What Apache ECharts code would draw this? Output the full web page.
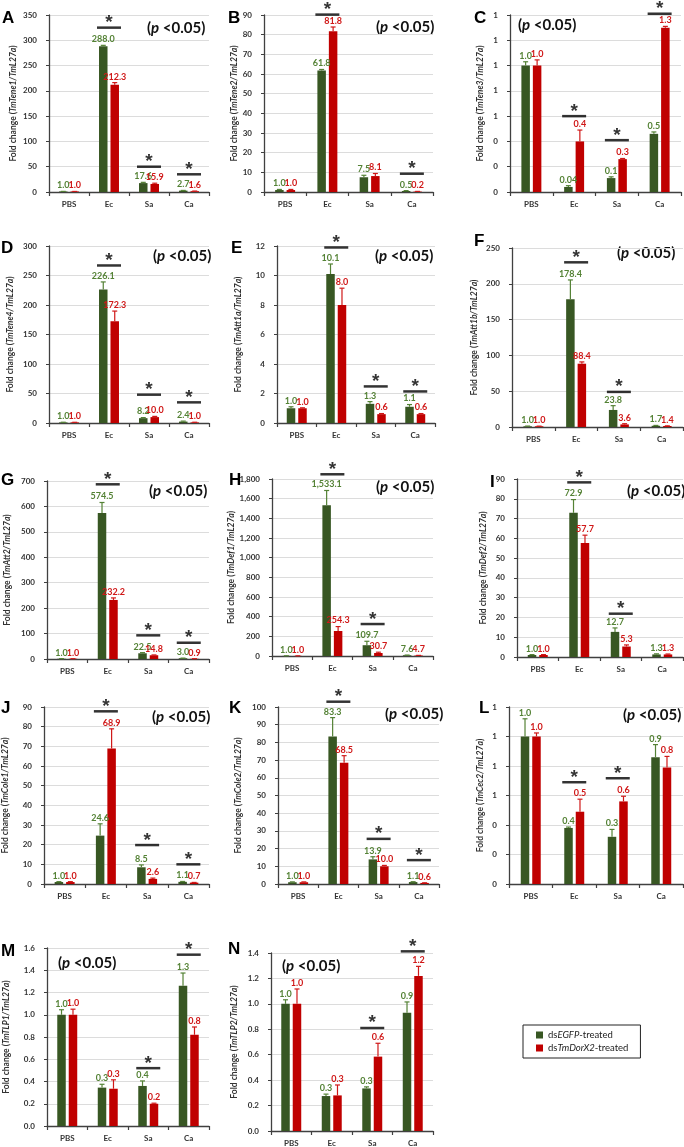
<!DOCTYPE html>
<html><head><meta charset="utf-8">
<script src="https://cdn.jsdelivr.net/npm/echarts@6/dist/echarts.min.js"></script>
<style>html,body{margin:0;padding:0;background:#fff}#c{width:684px;height:1147px}</style>
</head><body><div id="c"></div>
<script>
// ---------- DATA ----------
const categories = ['PBS', 'Ec', 'Sa', 'Ca'];
const panelLetters = ['A','B','C','D','E','F','G','H','I','J','K','L','M','N'];
const genes = ['TmTene1','TmTene2','TmTene3','TmTene4','TmAtt1a','TmAtt1b','TmAtt2','TmDef1','TmDef2','TmCole1','TmCole2','TmCec2','TmTLP1','TmTLP2'];
const seriesNames = ['dsEGFP-treated', 'dsTmDorX2-treated'];
const yMax      = [350, 90, 1.4, 300, 12, 250, 700, 1800, 90, 90, 100, 1.2, 1.6, 1.4];
const yInterval = [50, 10, 0.2, 50, 2, 50, 100, 200, 10, 10, 10, 0.2, 0.2, 0.2];
const yDecimals = [0, 0, 0, 0, 0, 0, 0, 0, 0, 0, 0, 0, 1, 1];

const egfpMean = [
  [1.0, 288.0, 17.6, 2.7],
  [1.0, 61.8, 7.5, 0.5],
  [1.0, 0.04, 0.11, 0.46],
  [1.0, 226.1, 8.2, 2.4],
  [1.0, 10.1, 1.3, 1.1],
  [1.0, 178.4, 23.8, 1.7],
  [1.0, 574.5, 22.5, 3.0],
  [1.0, 1533.1, 109.7, 7.6],
  [1.0, 72.9, 12.7, 1.3],
  [1.0, 24.6, 8.5, 1.1],
  [1.0, 83.3, 13.9, 1.1],
  [1.0, 0.38, 0.32, 0.86],
  [1.0, 0.345, 0.36, 1.26],
  [1.0, 0.275, 0.335, 0.93]
];
const dorxMean = [
  [1.0, 212.3, 15.9, 1.6],
  [1.0, 81.8, 8.1, 0.2],
  [1.0, 0.4, 0.26, 1.3],
  [1.0, 172.3, 10.0, 1.0],
  [1.0, 8.0, 0.6, 0.6],
  [1.0, 88.4, 3.6, 1.4],
  [1.0, 232.2, 14.8, 0.9],
  [1.0, 254.3, 30.7, 4.7],
  [1.0, 57.7, 5.3, 1.3],
  [1.0, 68.9, 2.6, 0.7],
  [1.0, 68.5, 10.0, 0.6],
  [1.0, 0.49, 0.56, 0.79],
  [1.0, 0.335, 0.2, 0.82],
  [1.0, 0.28, 0.585, 1.22]
];
const egfpErr = [
  [0.2, 2, 1.5, 0.4],
  [0.3, 0.5, 1.0, 0.2],
  [0.03, 0.01, 0.01, 0.015],
  [0.3, 13, 1.0, 0.8],
  [0.1, 0.68, 0.15, 0.15],
  [0.3, 27, 6, 0.5],
  [0.3, 41, 2.5, 0.5],
  [1, 150, 40, 2],
  [0.2, 6.7, 2.0, 0.3],
  [0.2, 6, 1.2, 0.2],
  [0.2, 10.7, 1.5, 0.2],
  [0.12, 0.006, 0.05, 0.085],
  [0.045, 0.03, 0.045, 0.115],
  [0.032, 0.015, 0.012, 0.085]
];
const dorxErr = [
  [0.1, 4, 1.5, 0.3],
  [0.3, 2.1, 1.3, 0.1],
  [0.045, 0.09, 0.005, 0.01],
  [0.2, 17.4, 1.2, 0.3],
  [0.03, 1.14, 0.04, 0.04],
  [0.2, 2.5, 1.0, 0.2],
  [0.2, 8, 1.2, 0.2],
  [0.5, 45, 8, 1.5],
  [0.2, 3.9, 0.8, 0.2],
  [0.2, 10, 0.4, 0.1],
  [0.2, 4, 0.5, 0.1],
  [0.024, 0.085, 0.035, 0.075],
  [0.05, 0.08, 0.005, 0.07],
  [0.117, 0.082, 0.105, 0.075]
];
// significance bars: category and level (in axis units)
const sigCats = [
  ['Ec','Sa','Ca'], ['Ec','Ca'], ['Ec','Sa','Ca'], ['Ec','Sa','Ca'], ['Ec','Sa','Ca'],
  ['Ec','Sa'], ['Ec','Sa','Ca'], ['Ec','Sa'], ['Ec','Sa'], ['Ec','Sa','Ca'],
  ['Ec','Sa','Ca'], ['Ec','Sa'], ['Sa','Ca'], ['Sa','Ca']
];
const sigLevels = [
  [325, 50, 35], [90.2, 9.3], [0.6, 0.41, 1.41], [267, 48, 35], [11.9, 2.48, 2.14],
  [230, 49], [687, 93, 64], [1848, 325], [88.3, 21.9], [87.8, 19.8, 10],
  [103, 25.5, 13.5], [0.69, 0.717], [0.52, 1.54], [0.81, 1.413]
];

// ---------- LAYOUT ----------
// plot boxes [left, top, right, bottom]
const boxes = [
  [49, 15, 209, 192], [264, 15, 433, 192], [510, 15, 681, 192],
  [49, 246, 209, 423], [277, 246, 435, 423], [512, 248, 683, 427],
  [47, 481, 209, 659], [272, 479, 433, 656], [517, 479, 683, 657],
  [44, 707, 209, 884], [278, 707, 439, 884], [509, 707, 683, 884],
  [47, 948, 209, 1126], [271, 953, 433, 1131]
];
const nameGaps = [31, 24, 25, 34, 34, 33, 35, 31, 29, 34, 35, 24, 36, 32];
const letterPos = [[2,18],[228,18],[474,18],[1,248],[231,248],[474,241],[1,480],[229,480],[490,482],[1,708],[229,708],[479,708],[1,951],[228,949]];
const pPos = [[147,28],[376,27],[518,25],[153,256],[375,256],[617,253],[149,491],[376,487],[627,491],[152,717],[385,714],[623,715],[58,963],[282,966]];

const GREEN = '#385723', RED = '#c00000';
const GREEN_TXT = '#548235', RED_TXT = '#d01818';
const FONT = 'Lato';
const BAR_W = 8.5, GAP = 0.35;
const OFF = (BAR_W + BAR_W * GAP) / 2;

function fmtNum(v, d) {
  const s = v.toFixed(d);
  const parts = s.split('.');
  const ip = parts[0].replace(/\B(?=(\d{3})+(?!\d))/g, ',');
  return parts.length > 1 ? ip + '.' + parts[1] : ip;
}
function fmtLabel(v) { return fmtNum(v, v < 0.05 ? 2 : 1); }

const option = {
  animation: false,
  backgroundColor: '#fff',
  grid: [], xAxis: [], yAxis: [], series: [],
  legend: {
    left: 523, top: 1025, orient: 'vertical', icon: 'rect',
    itemWidth: 7, itemHeight: 7, itemGap: 3,
    borderColor: '#222', borderWidth: 1, padding: [5, 12, 5, 13],
    data: seriesNames,
    formatter: function (name) {
      return name === seriesNames[0] ? '{n|ds}{i|EGFP}{n|-treated}' : '{n|ds}{i|TmDorX2}{n|-treated}';
    },
    textStyle: {
      fontFamily: FONT, fontSize: 9.5, color: '#222',
      rich: {
        n: { fontFamily: FONT, fontSize: 9.5, color: '#222' },
        i: { fontFamily: FONT, fontSize: 9.5, color: '#222', fontStyle: 'italic' }
      }
    }
  },
  graphic: []
};

const axisColor = '#404040';
for (let p = 0; p < 14; p++) {
  const b = boxes[p];
  option.grid.push({ left: b[0], top: b[1], width: b[2] - b[0], height: b[3] - b[1], containLabel: false });
  option.xAxis.push({
    type: 'category', gridIndex: p, data: categories,
    axisLine: { lineStyle: { color: axisColor, width: 1.3 } },
    axisTick: { show: true, length: 4, lineStyle: { color: axisColor, width: 1.2 } },
    axisLabel: { margin: 8, fontSize: 8, fontWeight: 'bold', color: '#333', fontFamily: FONT },
    splitLine: { show: false }
  });
  const dec = yDecimals[p];
  option.yAxis.push({
    type: 'value', gridIndex: p, min: 0, max: yMax[p], interval: yInterval[p],
    name: '{n|Fold change (}{i|' + genes[p] + '/TmL27a}{n|)}',
    nameLocation: 'middle', nameRotate: 90, nameGap: nameGaps[p],
    nameTextStyle: {
      fontFamily: FONT, fontSize: 8.5, color: '#333',
      rich: {
        n: { fontFamily: FONT, fontSize: 8.5, fontWeight: 'bold', color: '#333' },
        i: { fontFamily: FONT, fontSize: 8.5, fontWeight: 'bold', fontStyle: 'italic', color: '#333' }
      }
    },
    axisLine: { show: true, lineStyle: { color: axisColor, width: 1.3 } },
    axisTick: { show: true, length: 3, lineStyle: { color: axisColor } },
    axisLabel: { margin: 12, fontSize: 8, fontWeight: 'bold', color: '#333', fontFamily: FONT,
      formatter: function (v) { return fmtNum(v, dec); } },
    splitLine: { show: true, lineStyle: { color: '#dcdcdc', width: 1 } }
  });

  const groups = [
    { name: seriesNames[0], mean: egfpMean[p], err: egfpErr[p], color: GREEN, txt: GREEN_TXT, side: -1 },
    { name: seriesNames[1], mean: dorxMean[p], err: dorxErr[p], color: RED, txt: RED_TXT, side: 1 }
  ];
  groups.forEach(function (g) {
    option.series.push({
      type: 'bar', name: g.name, xAxisIndex: p, yAxisIndex: p,
      data: g.mean, barWidth: BAR_W, barGap: (GAP * 100) + '%',
      itemStyle: { color: g.color }, z: 2
    });
  });
  groups.forEach(function (g) {
    option.series.push({
      type: 'custom', name: g.name + ' err', xAxisIndex: p, yAxisIndex: p, z: 3,
      data: g.mean.map(function (m, i) { return [i, m, g.err[i]]; }),
      encode: { x: 0, y: 1 },
      renderItem: function (params, api) {
        const ci = api.value(0), m = api.value(1), e = api.value(2);
        const base = api.coord([ci, m]);
        const top = api.coord([ci, m + e]);
        const x = base[0] + g.side * OFF;
        return {
          type: 'group', children: [
            { type: 'line', shape: { x1: x, y1: base[1], x2: x, y2: top[1] }, style: { stroke: g.txt, lineWidth: 1.2 } },
            { type: 'line', shape: { x1: x - 2.5, y1: top[1], x2: x + 2.5, y2: top[1] }, style: { stroke: g.txt, lineWidth: 1.2 } },
            { type: 'text', x: x, y: top[1] - 1.5, style: {
                text: fmtLabel(m), fill: g.txt, font: 'bold 9px Lato',
                align: 'center', verticalAlign: 'bottom' } }
          ]
        };
      }
    });
  });
  option.series.push({
    type: 'scatter', xAxisIndex: p, yAxisIndex: p, z: 4, clip: false,
    symbol: 'rect', symbolSize: [24, 2.5], itemStyle: { color: '#000' },
    data: sigCats[p].map(function (c, i) { return [c, sigLevels[p][i]]; }),
    label: { show: true, position: 'top', distance: -6, formatter: '*', fontSize: 19, fontWeight: 'bold',
      color: '#000', fontFamily: 'Liberation Sans' },
    silent: true
  });

  option.graphic.push({
    type: 'text', x: letterPos[p][0], y: letterPos[p][1],
    style: { text: panelLetters[p], font: 'bold 17px "Liberation Sans"', fill: '#000',
      verticalAlign: 'middle', align: 'left' }
  });
  option.graphic.push({
    type: 'text', x: pPos[p][0], y: pPos[p][1],
    style: { text: '{n|(}{i|p}{n| <0.05)}', verticalAlign: 'middle', align: 'left',
      rich: {
        n: { fontFamily: FONT, fontSize: 15, fontWeight: 'bold', fill: '#111' },
        i: { fontFamily: FONT, fontSize: 15, fontWeight: 'bold', fontStyle: 'italic', fill: '#111' }
      } }
  });
}

const chart = echarts.init(document.getElementById('c'), null, { renderer: 'canvas' });
chart.setOption(option);
</script>
</body></html>
